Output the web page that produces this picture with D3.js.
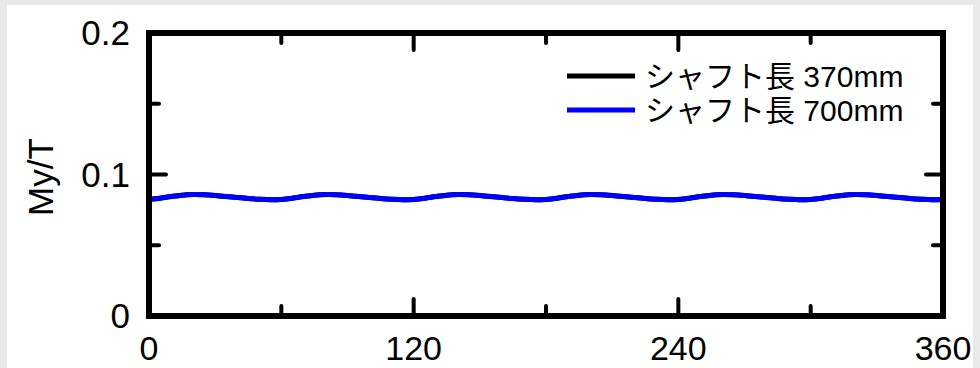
<!DOCTYPE html>
<html><head><meta charset="utf-8">
<script src="https://cdn.jsdelivr.net/npm/d3@7"></script>
<style>
html,body{margin:0;padding:0;background:#e9e9e9;}
svg{display:block;}
text{font-family:"Liberation Sans",Arial,"Noto Sans CJK JP",sans-serif;fill:#000;}
</style></head>
<body>
<svg id="c" width="980" height="368"></svg>
<script>
const angles = [0,5,10,15,20,25,30,35,40,45,50,55,60,65,70,75,80,85,90,95,100,105,110,115,120,125,130,135,140,145,150,155,160,165,170,175,180,185,190,195,200,205,210,215,220,225,230,235,240,245,250,255,260,265,270,275,280,285,290,295,300,305,310,315,320,325,330,335,340,345,350,355,360];
const shaft370 = [0.0824,0.0832,0.0844,0.0854,0.0858,0.0857,0.0852,0.0845,0.0837,0.0830,0.0825,0.0822,
 0.0824,0.0832,0.0844,0.0854,0.0858,0.0857,0.0852,0.0845,0.0837,0.0830,0.0825,0.0822,
 0.0824,0.0832,0.0844,0.0854,0.0858,0.0857,0.0852,0.0845,0.0837,0.0830,0.0825,0.0822,
 0.0824,0.0832,0.0844,0.0854,0.0858,0.0857,0.0852,0.0845,0.0837,0.0830,0.0825,0.0822,
 0.0824,0.0832,0.0844,0.0854,0.0858,0.0857,0.0852,0.0845,0.0837,0.0830,0.0825,0.0822,
 0.0824,0.0832,0.0844,0.0854,0.0858,0.0857,0.0852,0.0845,0.0837,0.0830,0.0825,0.0822,
 0.0824];
const shaft700 = [0.0824,0.0832,0.0844,0.0854,0.0858,0.0857,0.0852,0.0845,0.0837,0.0830,0.0825,0.0822,
 0.0824,0.0832,0.0844,0.0854,0.0858,0.0857,0.0852,0.0845,0.0837,0.0830,0.0825,0.0822,
 0.0824,0.0832,0.0844,0.0854,0.0858,0.0857,0.0852,0.0845,0.0837,0.0830,0.0825,0.0822,
 0.0824,0.0832,0.0844,0.0854,0.0858,0.0857,0.0852,0.0845,0.0837,0.0830,0.0825,0.0822,
 0.0824,0.0832,0.0844,0.0854,0.0858,0.0857,0.0852,0.0845,0.0837,0.0830,0.0825,0.0822,
 0.0824,0.0832,0.0844,0.0854,0.0858,0.0857,0.0852,0.0845,0.0837,0.0830,0.0825,0.0822,
 0.0824];
const seriesNames = ["シャフト長 370mm","シャフト長 700mm"];
const seriesColors = ["#000000","#0000ff"];
const xMajorTicks = [0,120,240,360];
const xMinorTicks = [60,180,300];
const yMajorTicks = [0,0.1,0.2];
const yMinorTicks = [0.05,0.15];
const yTickLabels = ["0","0.1","0.2"];
const yTitle = "My/T";

const svg = d3.select("#c");
svg.append("rect").attr("x",7).attr("y",5).attr("width",966).attr("height",363).attr("fill","#fff");

const L=149,R=943,T=33,B=316;
const x = d3.scaleLinear().domain([0,360]).range([L,R]);
const y = d3.scaleLinear().domain([0,0.2]).range([B,T]);

const ticks = svg.append("g").attr("stroke","#000").attr("stroke-width",4).attr("stroke-linecap","round");
function xt(v,len){
  ticks.append("line").attr("x1",x(v)).attr("x2",x(v)).attr("y1",B).attr("y2",B-len);
  ticks.append("line").attr("x1",x(v)).attr("x2",x(v)).attr("y1",T).attr("y2",T+len);
}
function yt(v,len){
  ticks.append("line").attr("y1",y(v)).attr("y2",y(v)).attr("x1",L).attr("x2",L+len);
  ticks.append("line").attr("y1",y(v)).attr("y2",y(v)).attr("x1",R).attr("x2",R-len);
}
xMajorTicks.forEach(v=>xt(v,17));
xMinorTicks.forEach(v=>xt(v,10));
yMajorTicks.forEach(v=>yt(v,17));
yMinorTicks.forEach(v=>yt(v,10));

const line = d3.line().x((d,i)=>x(angles[i])).y(d=>y(d)).curve(d3.curveCatmullRom);
[shaft370,shaft700].forEach((s,k)=>{
  svg.append("path").attr("d",line(s)).attr("fill","none").attr("stroke",seriesColors[k]).attr("stroke-width",5);
});

svg.append("rect").attr("x",L).attr("y",T).attr("width",R-L).attr("height",B-T)
  .attr("fill","none").attr("stroke","#000").attr("stroke-width",6);

svg.append("g").selectAll("text").data(xMajorTicks).join("text")
  .attr("x",d=>x(d)).attr("y",360).attr("text-anchor","middle").attr("font-size",34).text(d=>d);
svg.append("g").selectAll("text").data(yMajorTicks).join("text")
  .attr("x",130).attr("y",d=>y(d)+12).attr("text-anchor","end").attr("font-size",35).text((d,i)=>yTickLabels[i]);
svg.append("text").attr("transform","translate(53,177) rotate(-90)").attr("text-anchor","middle")
  .attr("font-size",35).text(yTitle);

const lg = svg.append("g");
seriesNames.forEach((n,i)=>{
  const yy = 76 + i*34;
  lg.append("line").attr("x1",567).attr("x2",635).attr("y1",yy).attr("y2",yy)
    .attr("stroke",seriesColors[i]).attr("stroke-width",5);
  lg.append("text").attr("x",645).attr("y",yy+11).attr("font-size",30).text(n);
});
</script>
</body></html>
